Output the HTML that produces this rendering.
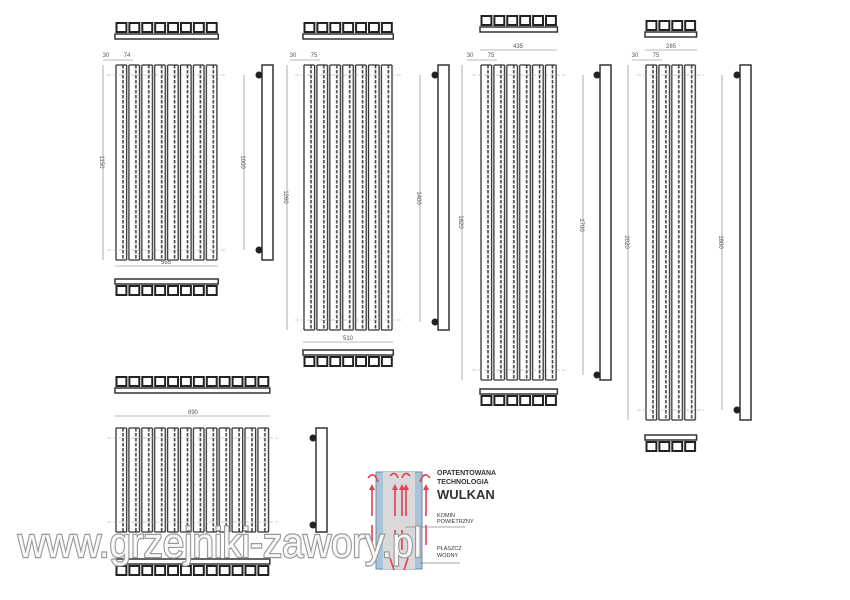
<!DOCTYPE html>
<html><head><meta charset="utf-8"><style>
html,body{margin:0;padding:0;background:#fff;}
svg{display:block;font-family:"Liberation Sans",sans-serif;}
</style></head><body>
<svg width="850" height="600" viewBox="0 0 850 600" xmlns="http://www.w3.org/2000/svg">
<defs>
<pattern id="col" patternUnits="userSpaceOnUse" x="0" y="0" width="12.9" height="5">
<line x1="1" y1="0" x2="1" y2="5" stroke="#333" stroke-width="1.3"/>
<line x1="11.6" y1="0" x2="11.6" y2="5" stroke="#333" stroke-width="1.3"/>
<line x1="8" y1="0" x2="8" y2="3.5" stroke="#444" stroke-width="1.6"/>
</pattern>
<pattern id="cell" patternUnits="userSpaceOnUse" x="0" y="0" width="12.9" height="11">
<rect x="1.5" y="1" width="9.9" height="9" fill="none" stroke="#222" stroke-width="2"/>
</pattern>
</defs>
<g fill="none" stroke="#333" stroke-width="1.3">
<!-- group 1 -->
<g transform="translate(115,22)"><rect width="103.2" height="11" fill="url(#cell)" stroke="none"/><rect y="12" width="103.2" height="5" stroke-width="1.5"/></g>
<g transform="translate(115,65)">
<rect width="103.2" height="195" fill="url(#col)" stroke="none"/>
<line x1="1" y1="0" x2="103.2" y2="0" stroke-dasharray="10.6 2.3"/>
<line x1="1" y1="195" x2="103.2" y2="195" stroke-dasharray="10.6 2.3"/>
<line x1="-8" y1="10" x2="111" y2="10" stroke="#999" stroke-dasharray="4 2" stroke-width="0.6"/>
<line x1="-8" y1="185" x2="111" y2="185" stroke="#999" stroke-dasharray="4 2" stroke-width="0.6"/>
</g>
<g transform="translate(115,279)"><rect width="103.2" height="5" stroke-width="1.5"/><g transform="translate(0,6)"><rect width="103.2" height="11" fill="url(#cell)" stroke="none"/></g></g>
<rect x="262" y="65" width="11" height="195" stroke-width="1.5"/>
<!-- group 2 -->
<g transform="translate(303,22)"><rect width="90.3" height="11" fill="url(#cell)" stroke="none"/><rect y="12" width="90.3" height="5" stroke-width="1.5"/></g>
<g transform="translate(303,65)">
<rect width="90.3" height="265" fill="url(#col)" stroke="none"/>
<line x1="1" y1="0" x2="90.3" y2="0" stroke-dasharray="10.6 2.3"/>
<line x1="1" y1="265" x2="90.3" y2="265" stroke-dasharray="10.6 2.3"/>
<line x1="-8" y1="10" x2="98" y2="10" stroke="#999" stroke-dasharray="4 2" stroke-width="0.6"/>
<line x1="-8" y1="255" x2="98" y2="255" stroke="#999" stroke-dasharray="4 2" stroke-width="0.6"/>
</g>
<g transform="translate(303,350)"><rect width="90.3" height="5" stroke-width="1.5"/><g transform="translate(0,6)"><rect width="90.3" height="11" fill="url(#cell)" stroke="none"/></g></g>
<rect x="438" y="65" width="11" height="265" stroke-width="1.5"/>
<!-- group 3 -->
<g transform="translate(480,15)"><rect width="77.4" height="11" fill="url(#cell)" stroke="none"/><rect y="12" width="77.4" height="5" stroke-width="1.5"/></g>
<g transform="translate(480,65)">
<rect width="77.4" height="315" fill="url(#col)" stroke="none"/>
<line x1="1" y1="0" x2="77.4" y2="0" stroke-dasharray="10.6 2.3"/>
<line x1="1" y1="315" x2="77.4" y2="315" stroke-dasharray="10.6 2.3"/>
<line x1="-8" y1="10" x2="85" y2="10" stroke="#999" stroke-dasharray="4 2" stroke-width="0.6"/>
<line x1="-8" y1="305" x2="85" y2="305" stroke="#999" stroke-dasharray="4 2" stroke-width="0.6"/>
</g>
<g transform="translate(480,389)"><rect width="77.4" height="5" stroke-width="1.5"/><g transform="translate(0,6)"><rect width="77.4" height="11" fill="url(#cell)" stroke="none"/></g></g>
<rect x="600" y="65" width="11" height="315" stroke-width="1.5"/>
<!-- group 4 -->
<g transform="translate(645,20)"><rect width="51.6" height="11" fill="url(#cell)" stroke="none"/><rect y="12" width="51.6" height="5" stroke-width="1.5"/></g>
<g transform="translate(645,65)">
<rect width="51.6" height="355" fill="url(#col)" stroke="none"/>
<line x1="1" y1="0" x2="51.6" y2="0" stroke-dasharray="10.6 2.3"/>
<line x1="1" y1="355" x2="51.6" y2="355" stroke-dasharray="10.6 2.3"/>
<line x1="-8" y1="10" x2="59" y2="10" stroke="#999" stroke-dasharray="4 2" stroke-width="0.6"/>
<line x1="-8" y1="345" x2="59" y2="345" stroke="#999" stroke-dasharray="4 2" stroke-width="0.6"/>
</g>
<g transform="translate(645,435)"><rect width="51.6" height="5" stroke-width="1.5"/><g transform="translate(0,6)"><rect width="51.6" height="11" fill="url(#cell)" stroke="none"/></g></g>
<rect x="740" y="65" width="11" height="355" stroke-width="1.5"/>
<!-- group 5 -->
<g transform="translate(115,376)"><rect width="154.8" height="11" fill="url(#cell)" stroke="none"/><rect y="12" width="154.8" height="5" stroke-width="1.5"/></g>
<g transform="translate(115,428)">
<rect width="154.8" height="104" fill="url(#col)" stroke="none"/>
<line x1="1" y1="0" x2="154.8" y2="0" stroke-dasharray="10.6 2.3"/>
<line x1="1" y1="104" x2="154.8" y2="104" stroke-dasharray="10.6 2.3"/>
<line x1="-8" y1="10" x2="163" y2="10" stroke="#999" stroke-dasharray="4 2" stroke-width="0.6"/>
<line x1="-8" y1="94" x2="163" y2="94" stroke="#999" stroke-dasharray="4 2" stroke-width="0.6"/>
</g>
<g transform="translate(115,559)"><rect width="154.8" height="5" stroke-width="1.5"/><g transform="translate(0,6)"><rect width="154.8" height="11" fill="url(#cell)" stroke="none"/></g></g>
<rect x="316" y="428" width="11" height="104" stroke-width="1.5"/>
<!-- dimension lines -->
<g stroke="#777" stroke-width="0.6">
<path d="M103 65V260 M244 75V250 M115 266H218 M103 60H133"/>
<path d="M287 65V330 M420 75V322 M303 342H393 M290 60H320"/>
<path d="M462 65V380 M583 75V375 M480 50H557 M467 60H497"/>
<path d="M628 65V420 M722 75V410 M645 50H697 M632 60H662"/>
<path d="M115 416H270"/>
</g>
</g>
<g fill="#222">
<circle cx="259" cy="75" r="3.5"/><circle cx="259" cy="250" r="3.5"/>
<circle cx="435" cy="75" r="3.5"/><circle cx="435" cy="322" r="3.5"/>
<circle cx="597" cy="75" r="3.5"/><circle cx="597" cy="375" r="3.5"/>
<circle cx="737" cy="75" r="3.5"/><circle cx="737" cy="410" r="3.5"/>
<circle cx="313" cy="438" r="3.5"/><circle cx="313" cy="525" r="3.5"/>
</g>
<g font-size="6" fill="#555" text-anchor="middle">
<text x="100" y="162" transform="rotate(90 100 162)">1150</text>
<text x="241" y="162" transform="rotate(90 241 162)">1000</text>
<text x="166" y="264">585</text><text x="106" y="57">30</text><text x="127" y="57">74</text>
<text x="284" y="197" transform="rotate(90 284 197)">1260</text>
<text x="417" y="198" transform="rotate(90 417 198)">1400</text>
<text x="348" y="340">510</text><text x="293" y="57">30</text><text x="314" y="57">75</text>
<text x="459" y="222" transform="rotate(90 459 222)">1820</text>
<text x="580" y="225" transform="rotate(90 580 225)">1700</text>
<text x="518" y="48">435</text><text x="470" y="57">30</text><text x="491" y="57">75</text>
<text x="625" y="242" transform="rotate(90 625 242)">2020</text>
<text x="719" y="242" transform="rotate(90 719 242)">1800</text>
<text x="671" y="48">285</text><text x="635" y="57">30</text><text x="656" y="57">75</text>
<text x="193" y="414">890</text>
</g>
<!-- Vulkan diagram -->
<g>
<rect x="376" y="472" width="46" height="97" fill="#a9c4d8" stroke="#6a8aa0"/>
<rect x="383" y="472" width="32" height="97" fill="#d9d9dc"/>
<g stroke="#e04050" stroke-width="1.6" fill="none">
<path d="M368 478 q6 -8 10 4 M430 478 q-6 -8 -10 4 M390 476 q5 -6 8 2 M410 476 q-5 -6 -8 2"/>
<path d="M372 490 v26 M372 525 v20 M395 490 v26 M402 490 v26 M406 490 v26 M426 490 v26 M426 525 v20 M395 530 v20 M402 530 v20 M390 558 l4 12 M408 558 l-4 12"/>
</g>
<path fill="#e04050" d="M369 490 l3 -6 l3 6z M392 490 l3 -6 l3 6z M399 490 l3 -6 l3 6z M403 490 l3 -6 l3 6z M423 490 l3 -6 l3 6z"/>
<g font-size="7" fill="#333" font-weight="bold">
<text x="437" y="475">OPATENTOWANA</text>
<text x="437" y="484">TECHNOLOGIA</text>
<text x="437" y="499" font-size="13">WULKAN</text>
<text x="437" y="517" font-size="5.5" font-weight="normal">KOMIN</text>
<text x="437" y="523" font-size="5.5" font-weight="normal">POWIETRZNY</text>
<text x="437" y="550" font-size="5.5" font-weight="normal">PŁASZCZ</text>
<text x="437" y="557" font-size="5.5" font-weight="normal">WODNY</text>
</g>
<path d="M405 527 h60 M420 563 h40" stroke="#888" stroke-width="0.8"/>
</g>
<text x="18" y="557" font-size="42" textLength="404" lengthAdjust="spacingAndGlyphs" fill="#fff" stroke="#999" stroke-width="2.4" paint-order="stroke" fill-opacity="0.9">www.grzejniki-zawory.pl</text>
</svg>
</body></html>
